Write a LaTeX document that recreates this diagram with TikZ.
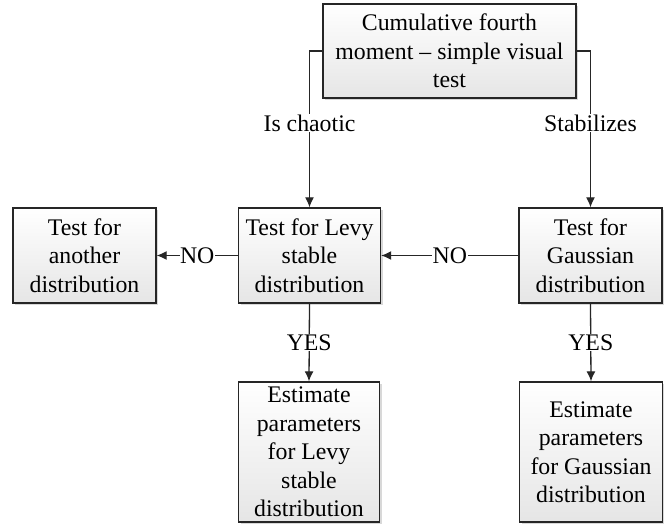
\documentclass[tikz,border=0pt]{standalone}
\usepackage{fontspec}
\setmainfont{Liberation Serif}
\usetikzlibrary{arrows.meta,shadows}
\begin{document}
\begin{tikzpicture}[x=1pt,y=-1pt,
  box/.style={draw=black!85, line width=1.4pt, top color=white, bottom color=black!10,
    drop shadow={shadow xshift=2pt, shadow yshift=-2pt, opacity=0.25, fill=black!60},
    align=center, inner sep=0pt, font=\fontsize{23.8}{28.5}\selectfont},
  conn/.style={line width=1.3pt, draw=black!85, -{Latex[length=10pt,width=9pt]}},
  lbl/.style={fill=white, inner sep=1pt, font=\fontsize{23.8}{28.5}\selectfont}]
\useasboundingbox[fill=white] (0,0) rectangle (664,526);
\node[box, minimum width=253pt, minimum height=94pt] (top) at (449.5,51)
  {Cumulative fourth\\moment -- simple visual\\test};
\node[box, minimum width=143pt, minimum height=95pt] (another) at (84.5,255.5)
  {Test for\\another\\distribution};
\node[box, minimum width=142pt, minimum height=95pt] (levy) at (309.5,255.5)
  {Test for Levy\\stable\\distribution};
\node[box, minimum width=143pt, minimum height=95pt] (gauss) at (590.5,255.5)
  {Test for\\Gaussian\\distribution};
\node[box, minimum width=141pt, minimum height=140pt] (estL) at (309,452)
  {Estimate\\parameters\\for Levy\\stable\\distribution};
\node[box, minimum width=143pt, minimum height=140pt] (estG) at (591,452)
  {Estimate\\parameters\\for Gaussian\\distribution};
\draw[conn] (top.west) -| node[lbl, pos=0.73] {Is chaotic} (levy.north);
\draw[conn] (top.east) -| node[lbl, pos=0.73] {Stabilizes} (gauss.north);
\draw[conn] (gauss.west) -- node[lbl] {NO} (levy.east);
\draw[conn] (levy.west) -- node[lbl, inner sep=0.5pt] {NO} (another.east);
\draw[conn] (levy.south) -- node[lbl] {YES} (estL.north);
\draw[conn] (gauss.south) -- node[lbl] {YES} (estG.north);
\end{tikzpicture}
\end{document}
